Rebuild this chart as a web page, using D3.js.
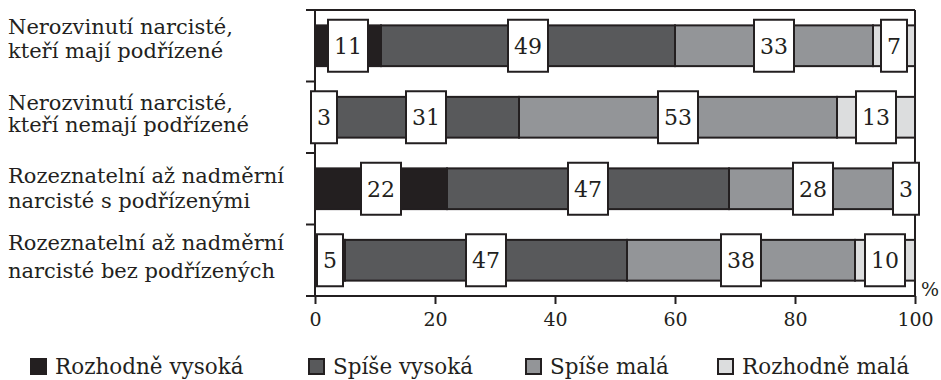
<!DOCTYPE html>
<html><head><meta charset="utf-8">
<script src="https://cdn.jsdelivr.net/npm/d3@7/dist/d3.min.js"></script>
<style>body{margin:0;background:#fff;} svg text{font-family:"DejaVu Serif",serif;fill:#231f20;}</style>
</head><body><svg id="c" width="941" height="380"></svg>
<script>
const categories = [
  ["Nerozvinutí narcisté,", "kteří mají podřízené"],
  ["Nerozvinutí narcisté,", "kteří nemají podřízené"],
  ["Rozeznatelní až nadměrní", "narcisté s podřízenými"],
  ["Rozeznatelní až nadměrní", "narcisté bez podřízených"]
];
const seriesNames = ["Rozhodně vysoká", "Spíše vysoká", "Spíše malá", "Rozhodně malá"];
const rozhodneVysoka = [11, 3, 22, 5];
const spiseVysoka = [49, 31, 47, 47];
const spiseMala = [33, 53, 28, 38];
const rozhodneMala = [7, 13, 3, 10];
const xTicks = [0, 20, 40, 60, 80, 100];
const colors = ["#231f20", "#58595b", "#939598", "#dcddde"];

const series = [rozhodneVysoka, spiseVysoka, spiseMala, rozhodneMala];
const svg = d3.select("#c");
const x = d3.scaleLinear().domain([0, 100]).range([315, 915]);
const y = d3.scaleBand().domain(d3.range(categories.length)).range([10, 296]).paddingInner(0.43).paddingOuter(0.215);
const ink = "#231f20";

// frame
svg.append("line").attr("x1", 306).attr("x2", x(100)).attr("y1", 10).attr("y2", 10).attr("stroke", ink).attr("stroke-width", 2);
svg.append("line").attr("x1", x(100)).attr("x2", x(100)).attr("y1", 10).attr("y2", 296).attr("stroke", ink).attr("stroke-width", 2);

// x axis
const xa = svg.append("g").attr("transform", "translate(0,296)")
  .call(d3.axisBottom(x).tickValues(xTicks).tickSize(8).tickPadding(9).tickFormat(d3.format("d")));
xa.attr("font-family", null);
xa.select(".domain").attr("stroke", ink).attr("stroke-width", 2).attr("d", `M${x(0)},0H${x(100)}`);
xa.selectAll(".tick line").attr("stroke", ink).attr("stroke-width", 2);
xa.selectAll(".tick text").attr("font-size", 19).attr("fill", ink);

// y axis with ticks at band boundaries
const yBounds = d3.range(categories.length + 1).map(i => 10 + i * (296 - 10) / categories.length);
svg.append("line").attr("x1", x(0)).attr("x2", x(0)).attr("y1", 10).attr("y2", 296).attr("stroke", ink).attr("stroke-width", 2);
svg.selectAll(".ytick").data(yBounds).join("line").attr("class", "ytick")
  .attr("x1", 306).attr("x2", x(0)).attr("y1", d => d).attr("y2", d => d).attr("stroke", ink).attr("stroke-width", 2);

// category labels
const labelOff = [[-12, 12], [-7, 15], [-6, 19], [-10, 18]];
categories.forEach((lines, i) => {
  const cy = y(i) + y.bandwidth() / 2;
  lines.forEach((t, j) => {
    svg.append("text").attr("x", 8).attr("y", cy + labelOff[i][j]).attr("font-size", 21).text(t);
  });
});

// stacked bars
categories.forEach((c, i) => {
  let acc = 0;
  const segs = series.map((s, k) => { const v = s[i]; const seg = {k, v, x0: acc, x1: acc + v}; acc += v; return seg; });
  const g = svg.append("g");
  g.selectAll("rect").data(segs).join("rect")
    .attr("x", d => x(d.x0)).attr("width", d => x(d.x1) - x(d.x0))
    .attr("y", y(i)).attr("height", y.bandwidth())
    .attr("fill", d => colors[d.k]).attr("stroke", ink).attr("stroke-width", 2);
  const lab = g.selectAll("g.lab").data(segs).join("g").attr("class", "lab")
    .attr("transform", d => `translate(${(x(d.x0) + x(d.x1)) / 2},${y(i) + y.bandwidth() / 2})`);
  lab.append("rect").attr("x", d => d.v >= 10 ? -20 : -13).attr("width", d => d.v >= 10 ? 40 : 26)
    .attr("y", -26).attr("height", 52).attr("fill", "#fff").attr("stroke", ink).attr("stroke-width", 2);
  lab.append("text").attr("text-anchor", "middle").attr("dy", "0.36em").attr("font-size", 22).text(d => d.v);
});

// percent sign
svg.append("text").attr("x", 921).attr("y", 296).attr("font-size", 19).text("%");

// legend
const legX = [30, 308, 525, 717];
seriesNames.forEach((n, k) => {
  svg.append("rect").attr("x", legX[k] + 1).attr("y", 359).attr("width", 15).attr("height", 15)
    .attr("fill", colors[k]).attr("stroke", ink).attr("stroke-width", 2);
  svg.append("text").attr("x", legX[k] + 25).attr("y", 374).attr("font-size", 21.5).text(n);
});
</script></body></html>
